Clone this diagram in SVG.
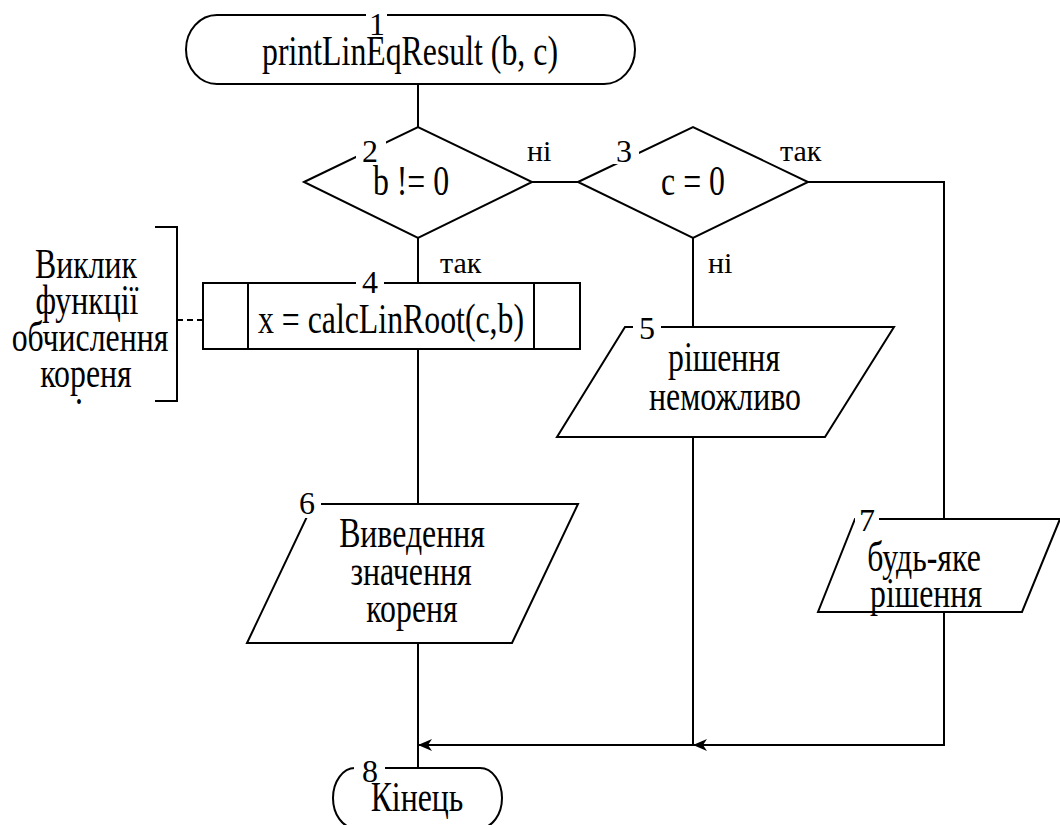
<svg xmlns="http://www.w3.org/2000/svg" width="1060" height="825" viewBox="0 0 1060 825">
<defs>
<style>
.ln{stroke:#000;stroke-width:2;fill:none}
.sh{stroke:#000;stroke-width:2;fill:#fff}
.gap{fill:#fff;stroke:none}
.t{font-family:"Liberation Serif","Times New Roman",serif;font-size:43px;fill:#000}
.n{font-family:"Liberation Serif","Times New Roman",serif;font-size:32px;fill:#000;text-anchor:middle}
.l{font-family:"Liberation Serif","Times New Roman",serif;font-size:30px;fill:#000}
</style>
<marker id="ar" viewBox="0 0 16 14" refX="15" refY="7" markerWidth="16" markerHeight="14" markerUnits="userSpaceOnUse" orient="auto">
<path d="M15,7 L1,1 L5,7 L1,13 Z" fill="#000"/>
</marker>
</defs>
<rect width="1060" height="825" fill="#fff"/>

<g id="connectors">
<path class="ln" d="M418,84 V127"/>
<path class="ln" d="M418,238 V283"/>
<path class="ln" d="M532,182 H578"/>
<path class="ln" d="M808,182 H944 V519"/>
<path class="ln" d="M693,238 V327"/>
<path class="ln" d="M418,349 V504"/>
<path class="ln" d="M418,620 V768"/>
<path class="ln" d="M693,437 V745"/>
<path class="ln" d="M944,612 V745 H693" marker-end="url(#ar)"/>
<path class="ln" d="M693,745 H418" marker-end="url(#ar)"/>
<path class="ln" d="M177,320 H220" stroke-dasharray="6,4"/>
</g>

<g id="n1">
<path class="sh" d="M217,15 H604 A31,34.5 0 0 1 604,84 H217 A31,34.5 0 0 1 217,15 Z"/>
<rect class="gap" x="366" y="8" width="21" height="16"/>
<text class="n" x="377" y="35">1</text>
<text class="t" text-anchor="middle" transform="translate(410,65) scale(0.74,1)">printLinEqResult (b, c)</text>
</g>

<g id="n2">
<polygon class="sh" points="304,182 418,127 532,182 418,238"/>
<rect class="gap" x="356" y="136" width="30" height="28"/>
<text class="n" x="370" y="162">2</text>
<text class="t" text-anchor="middle" transform="translate(411,195) scale(0.74,1)">b != 0</text>
</g>

<g id="n3">
<polygon class="sh" points="578,182 693,127 808,182 693,238"/>
<rect class="gap" x="609" y="136" width="30" height="28"/>
<text class="n" x="624" y="162">3</text>
<text class="t" text-anchor="middle" transform="translate(693,195) scale(0.74,1)">c = 0</text>
</g>

<g id="n4">
<rect class="sh" x="203" y="283" width="377" height="66"/>
<path class="ln" d="M248,283 V349 M534,283 V349"/>
<rect class="gap" x="356" y="276" width="28" height="14"/>
<text class="n" x="370" y="293">4</text>
<text class="t" text-anchor="middle" transform="translate(391,333) scale(0.74,1)">x = calcLinRoot(c,b)</text>
</g>

<g id="n5">
<polygon class="sh" points="625,327 894,327 825,437 557,437"/>
<rect class="gap" x="633" y="318" width="28" height="18"/>
<text class="n" x="647" y="339">5</text>
<text class="t" text-anchor="middle" transform="translate(724,371) scale(0.74,1)">рішення</text>
<text class="t" text-anchor="middle" transform="translate(725,410) scale(0.74,1)">неможливо</text>
</g>

<g id="n6">
<polygon class="sh" points="313,504 578,504 512,643 247,643"/>
<rect class="gap" x="296" y="494" width="25" height="24"/>
<text class="n" x="307" y="514">6</text>
<text class="t" text-anchor="middle" transform="translate(412,547) scale(0.74,1)">Виведення</text>
<text class="t" text-anchor="middle" transform="translate(411,585) scale(0.74,1)">значення</text>
<text class="t" text-anchor="middle" transform="translate(412,622) scale(0.74,1)">кореня</text>
</g>

<g id="n7">
<polygon class="sh" points="855,519 1060,519 1022,612 818,612"/>
<rect class="gap" x="855" y="509" width="24" height="20"/>
<text class="n" x="867" y="531">7</text>
<text class="t" text-anchor="middle" transform="translate(924,571) scale(0.74,1)">будь-яке</text>
<text class="t" text-anchor="middle" transform="translate(926,607) scale(0.74,1)">рішення</text>
</g>

<g id="n8">
<path class="sh" d="M355,768 H480 A22,30 0 0 1 480,828 H355 A22,30 0 0 1 355,768 Z"/>
<rect class="gap" x="354" y="758" width="31" height="26"/>
<text class="n" x="370" y="782">8</text>
<text class="t" text-anchor="middle" transform="translate(417,811) scale(0.74,1)">Кінець</text>
</g>

<g id="comment">
<path class="ln" d="M155,227 H177 V401 H155"/>
<text class="t" text-anchor="middle" transform="translate(86,278) scale(0.74,1)">Виклик</text>
<text class="t" text-anchor="middle" transform="translate(87,314) scale(0.74,1)">функції</text>
<text class="t" text-anchor="middle" transform="translate(90,351) scale(0.74,1)">обчислення</text>
<text class="t" text-anchor="middle" transform="translate(86,387) scale(0.74,1)">кореня</text>
<text class="t" transform="translate(75,404) scale(0.74,1)">.</text>
</g>

<g id="labels">
<text class="l" x="527" y="161">ні</text>
<text class="l" x="780" y="161">так</text>
<text class="l" x="440" y="273">так</text>
<text class="l" x="708" y="273">ні</text>
</g>
</svg>
